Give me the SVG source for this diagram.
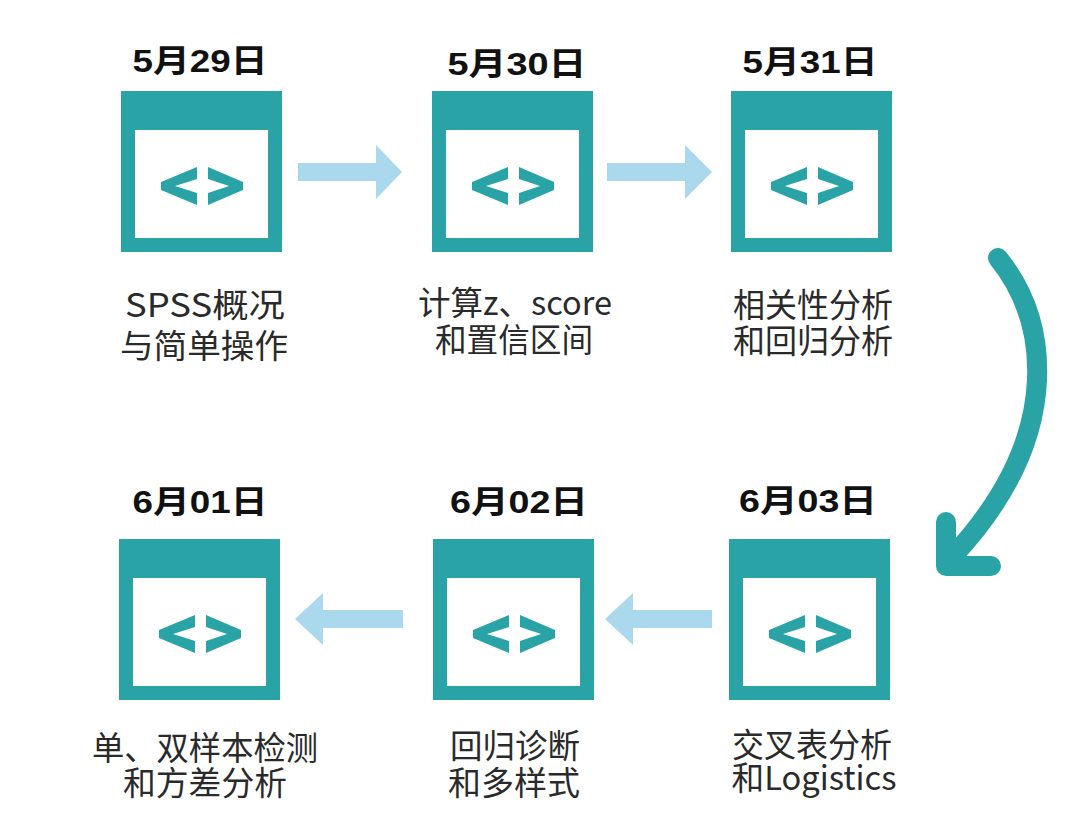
<svg xmlns="http://www.w3.org/2000/svg" xmlns:xlink="http://www.w3.org/1999/xlink" width="1080" height="813" viewBox="0 0 1080 813">
<style>
.title{font-family:"Liberation Sans","Noto Sans CJK SC",sans-serif;font-weight:bold;font-size:32px;fill:#111;text-anchor:middle}
.label{font-family:"Noto Sans CJK SC","Noto Sans",sans-serif;font-size:33px;fill:#2a2a2a;text-anchor:middle}
.flow{fill:#aad9ee}
.curve{fill:none;stroke:#2aa3a6;stroke-width:20;stroke-linecap:round;stroke-linejoin:round}
</style>
<defs>
<g id="icon">
<rect x="0" y="0" width="161" height="161" fill="#2aa3a7"/>
<rect x="14" y="39" width="133" height="108" fill="#ffffff"/>
<polygon points="40,91 76,76 76,88 54,95 76,102 76,114 40,99" fill="#2aa3a7"/>
<polygon points="122,91 87,76 87,88 108,95 87,102 87,114 122,99" fill="#2aa3a7"/>
</g>
</defs>
<rect width="1080" height="813" fill="#ffffff"/>
<g id="connectors">
<polygon class="flow" points="298,163 376,163 376,145 402,172 376,199 376,181 298,181"/>
<polygon class="flow" points="607,163 685,163 685,145 712,172 685,199 685,181 607,181"/>
<polygon class="flow" points="712,610 633,610 633,593 605,619 633,645 633,628 712,628"/>
<polygon class="flow" points="403,610 323,610 323,593 295,619 323,645 323,628 403,628"/>
<path class="curve" d="M 998 258 Q 1040 310 1037 380 Q 1033 470 953 556"/>
<path class="curve" d="M 946 522 L 946 566 L 991 566"/>
</g>
<g id="node-0529">
<text class="title" x="200" y="72" textLength="135" lengthAdjust="spacingAndGlyphs">5月29日</text>
<use xlink:href="#icon" href="#icon" x="121" y="91"/>
<text class="label" x="205" y="317" textLength="160" lengthAdjust="spacingAndGlyphs">SPSS概况</text>
<text class="label" x="204" y="358" textLength="168" lengthAdjust="spacingAndGlyphs">与简单操作</text>
</g>
<g id="node-0530">
<text class="title" x="517" y="75" textLength="139" lengthAdjust="spacingAndGlyphs">5月30日</text>
<use xlink:href="#icon" href="#icon" x="432" y="91"/>
<text class="label" x="515" y="315" textLength="194" lengthAdjust="spacingAndGlyphs">计算z、score</text>
<text class="label" x="514" y="352" textLength="158" lengthAdjust="spacingAndGlyphs">和置信区间</text>
</g>
<g id="node-0531">
<text class="title" x="810" y="73" textLength="135" lengthAdjust="spacingAndGlyphs">5月31日</text>
<use xlink:href="#icon" href="#icon" x="731" y="91"/>
<text class="label" x="813" y="317" textLength="160" lengthAdjust="spacingAndGlyphs">相关性分析</text>
<text class="label" x="813" y="353" textLength="160" lengthAdjust="spacingAndGlyphs">和回归分析</text>
</g>
<g id="node-0603">
<text class="title" x="808" y="512" textLength="138" lengthAdjust="spacingAndGlyphs">6月03日</text>
<use xlink:href="#icon" href="#icon" x="729" y="539"/>
<text class="label" x="812" y="757" textLength="160" lengthAdjust="spacingAndGlyphs">交叉表分析</text>
<text class="label" x="814" y="790" textLength="165" lengthAdjust="spacingAndGlyphs">和Logistics</text>
</g>
<g id="node-0602">
<text class="title" x="519" y="513" textLength="138" lengthAdjust="spacingAndGlyphs">6月02日</text>
<use xlink:href="#icon" href="#icon" x="433" y="539"/>
<text class="label" x="515" y="758" textLength="130" lengthAdjust="spacingAndGlyphs">回归诊断</text>
<text class="label" x="514" y="795" textLength="132" lengthAdjust="spacingAndGlyphs">和多样式</text>
</g>
<g id="node-0601">
<text class="title" x="200" y="513" textLength="135" lengthAdjust="spacingAndGlyphs">6月01日</text>
<use xlink:href="#icon" href="#icon" x="119" y="539"/>
<text class="label" x="205" y="760" textLength="226" lengthAdjust="spacingAndGlyphs">单、双样本检测</text>
<text class="label" x="205" y="795" textLength="164" lengthAdjust="spacingAndGlyphs">和方差分析</text>
</g>
</svg>
